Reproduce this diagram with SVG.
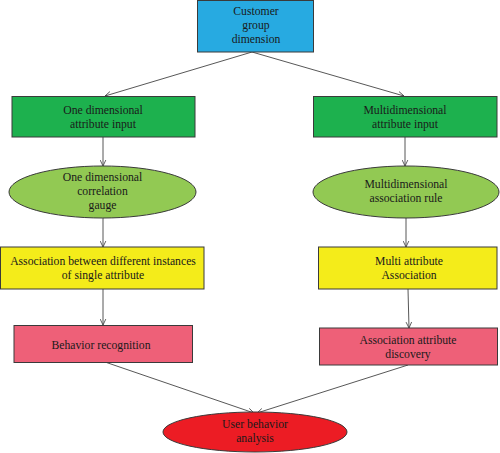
<svg xmlns="http://www.w3.org/2000/svg" width="500" height="453" viewBox="0 0 500 453">
<defs>
<style>
text{font-family:"Liberation Serif","Times New Roman",serif;font-size:11.7px;fill:#1a1a1a;text-anchor:middle}
.n{stroke:#3a3a3a;stroke-width:1}
.blue{fill:#27AAE1}
.green{fill:#1DB14E}
.lg{fill:#92C953}
.yel{fill:#F4EC1A}
.pink{fill:#EE6078}
.red{fill:#EC1C24}
.c{stroke:#444;stroke-width:0.9;fill:none;marker-end:url(#ah)}
</style>
<marker id="ah" viewBox="0 0 10 10" refX="9.5" refY="5" markerWidth="7" markerHeight="7" markerUnits="userSpaceOnUse" orient="auto">
<polyline points="1,1 9.5,5 1,9" fill="none" stroke="#444" stroke-width="1.2"/>
</marker>
</defs>
<rect width="500" height="453" fill="#fff"/>
<g id="connectors">
<line class="c" x1="252" y1="52" x2="105" y2="96"/>
<line class="c" x1="252" y1="52" x2="404" y2="96"/>
<line class="c" x1="103" y1="137" x2="103" y2="166"/>
<line class="c" x1="405" y1="137" x2="405" y2="166"/>
<line class="c" x1="103" y1="218" x2="103" y2="247"/>
<line class="c" x1="406" y1="218" x2="406" y2="247"/>
<line class="c" x1="103" y1="289" x2="103" y2="325"/>
<line class="c" x1="408" y1="289" x2="409" y2="328"/>
<line class="c" x1="105" y1="362" x2="254" y2="413"/>
<line class="c" x1="408" y1="365" x2="257" y2="413"/>
</g>
<g id="customer-group-dimension">
<rect class="n blue" x="197.5" y="0.5" width="116" height="51.5"/>
<text x="256" y="15">Customer</text>
<text x="256" y="29">group</text>
<text x="256" y="43">dimension</text>
</g>
<g id="one-dim-input">
<rect class="n green" x="12" y="96.5" width="183" height="40.5"/>
<text x="103" y="114">One dimensional</text>
<text x="103" y="128">attribute input</text>
</g>
<g id="multi-dim-input">
<rect class="n green" x="313.5" y="96.5" width="183.5" height="40.5"/>
<text x="405" y="114">Multidimensional</text>
<text x="405" y="128">attribute input</text>
</g>
<g id="one-dim-gauge">
<ellipse class="n lg" cx="102.5" cy="192" rx="93.5" ry="26"/>
<text x="102.5" y="181">One dimensional</text>
<text x="102.5" y="195">correlation</text>
<text x="102.5" y="209">gauge</text>
</g>
<g id="multi-dim-rule">
<ellipse class="n lg" cx="406" cy="192" rx="93" ry="26"/>
<text x="406" y="188">Multidimensional</text>
<text x="406" y="202">association rule</text>
</g>
<g id="assoc-single">
<rect class="n yel" x="0.5" y="247" width="203.5" height="42"/>
<text x="103" y="265">Association between different instances</text>
<text x="103" y="279">of single attribute</text>
</g>
<g id="multi-attr-assoc">
<rect class="n yel" x="318.5" y="247" width="178.5" height="42"/>
<text x="409" y="265">Multi attribute</text>
<text x="409" y="279">Association</text>
</g>
<g id="behavior-recognition">
<rect class="n pink" x="14" y="325.5" width="178.5" height="37"/>
<text x="101" y="349">Behavior recognition</text>
</g>
<g id="assoc-attr-discovery">
<rect class="n pink" x="319.5" y="328" width="178" height="37"/>
<text x="408" y="344">Association attribute</text>
<text x="408" y="358">discovery</text>
</g>
<g id="user-behavior-analysis">
<ellipse class="n red" cx="255" cy="432" rx="92" ry="20"/>
<text x="255" y="428">User behavior</text>
<text x="255" y="442">analysis</text>
</g>
</svg>
